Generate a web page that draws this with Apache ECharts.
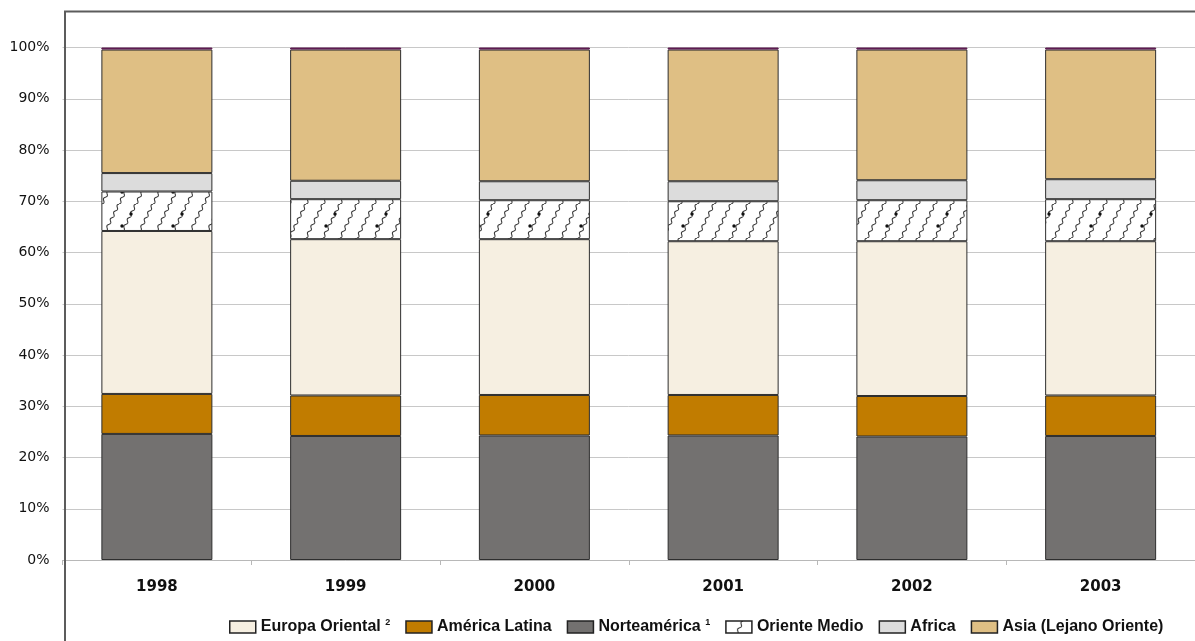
<!DOCTYPE html>
<html>
<head>
<meta charset="utf-8">
<script src="https://cdn.jsdelivr.net/npm/echarts@6/dist/echarts.min.js"></script>
<style>html,body{margin:0;padding:0;background:#fff}#c{width:1195px;height:641px}</style>
</head>
<body>
<div id="c"></div>
<script>
const years = ['1998','1999','2000','2001','2002','2003'];
const norteamerica   = [24.6, 24.2, 24.3, 24.3, 24.1, 24.2];
const americaLatina  = [7.8, 7.9, 7.9, 7.9, 7.9, 7.9];
const europaOriental = [31.8, 30.5, 30.4, 30.0, 30.2, 30.1];
const orienteMedio   = [7.7, 7.8, 7.6, 7.8, 8.0, 8.2];
const africa         = [3.6, 3.6, 3.7, 3.9, 3.9, 3.9];
const asia           = [24.1, 25.6, 25.7, 25.7, 25.5, 25.3];
const otros          = [0.4, 0.4, 0.4, 0.4, 0.4, 0.4];
const yTicks = [0, 10, 20, 30, 40, 50, 60, 70, 80, 90, 100];

function makePattern() {
  const c = document.createElement('canvas');
  c.width = 51; c.height = 34;
  const g = c.getContext('2d');
  g.fillStyle = '#ffffff';
  g.fillRect(0, 0, 51, 34);
  g.strokeStyle = '#3a3a3a';
  g.lineWidth = 1.1;
  const L = Math.hypot(17, 34);
  const nx = 34 / L, ny = 17 / L;
  for (let xi = -51; xi <= 102; xi += 17) {
    g.beginPath();
    for (let i = 0; i <= 96; i++) {
      const t = i / 96;
      const off = 1.1 * Math.sin(2 * Math.PI * 5 * t);
      const x = xi + 17 * t + nx * off;
      const y = 34 - 34 * t + ny * off;
      if (i === 0) g.moveTo(x, y); else g.lineTo(x, y);
    }
    g.stroke();
  }
  g.fillStyle = '#111';
  [[29, 10], [20, 22]].forEach(function (p) {
    g.beginPath(); g.arc(p[0], p[1], 1.7, 0, Math.PI * 2); g.fill();
  });
  return c;
}

const chart = echarts.init(document.getElementById('c'), null, {renderer: 'canvas'});
function bar(name, data, color, bc) {
  return {
    name: name, type: 'bar', stack: 'total', data: data, barWidth: 111,
    itemStyle: {color: color, borderColor: bc || '#2e2e2e', borderWidth: 1},
    emphasis: {disabled: true}
  };
}
const legendNames = ['Europa Oriental', 'América Latina', 'Norteamérica', 'Oriente Medio', 'Africa', 'Asia (Lejano Oriente)'];
const supers = {'Europa Oriental': '2', 'Norteamérica': '1'};
const legendFont = '"Liberation Sans Narrow", "Liberation Sans", sans-serif';

chart.setOption({
  animation: false,
  backgroundColor: '#ffffff',
  grid: {left: 62.5, top: 47.5, width: 1135, height: 512.5, containLabel: false},
  graphic: [{
    type: 'rect', z: 100, silent: true,
    shape: {x: 65, y: 11.5, width: 1200, height: 700},
    style: {fill: 'none', stroke: '#5c5c5c', lineWidth: 2}
  }],
  xAxis: {
    type: 'category', data: years,
    axisLine: {show: true, lineStyle: {color: '#b8b8b8', width: 1}},
    axisTick: {show: true, length: 5, lineStyle: {color: '#b8b8b8'}},
    axisLabel: {color: '#111', fontSize: 15, fontWeight: 'bold', margin: 20,
      fontFamily: '"DejaVu Sans", sans-serif'}
  },
  yAxis: {
    type: 'value', min: 0, max: 100, interval: 10,
    axisLine: {show: false}, axisTick: {show: false},
    splitLine: {lineStyle: {color: '#c8c8c8', width: 1}},
    axisLabel: {formatter: '{value}%', color: '#111', fontSize: 14, margin: 13,
      fontFamily: '"DejaVu Sans", sans-serif'}
  },
  legend: {
    data: legendNames, left: 224, top: 613, width: 1000,
    itemWidth: 26, itemHeight: 12, itemGap: 15,
    icon: 'rect',
    itemStyle: {borderColor: '#222', borderWidth: 1.5},
    textStyle: {color: '#111', fontSize: 16, fontWeight: 'bold', fontFamily: legendFont,
      rich: {
        n: {fontSize: 16, fontWeight: 'bold', fontFamily: legendFont, color: '#111'},
        s: {fontSize: 9, fontWeight: 'bold', fontFamily: legendFont, color: '#111', padding: [0, 0, 9, 0]}
      }},
    formatter: function (name) {
      return supers[name] ? '{n|' + name + '} {s|' + supers[name] + '}' : '{n|' + name + '}';
    }
  },
  series: [
    bar('Norteamérica', norteamerica, '#737170'),
    bar('América Latina', americaLatina, '#C17C00'),
    bar('Europa Oriental', europaOriental, '#F6EFE1'),
    bar('Oriente Medio', orienteMedio, {image: makePattern(), repeat: 'repeat'}),
    bar('Africa', africa, '#DCDCDC'),
    bar('Asia (Lejano Oriente)', asia, '#DFBF84'),
    bar('Otros', otros, '#6B1F5E', '#5a1a4e')
  ]
});
</script>
</body>
</html>
